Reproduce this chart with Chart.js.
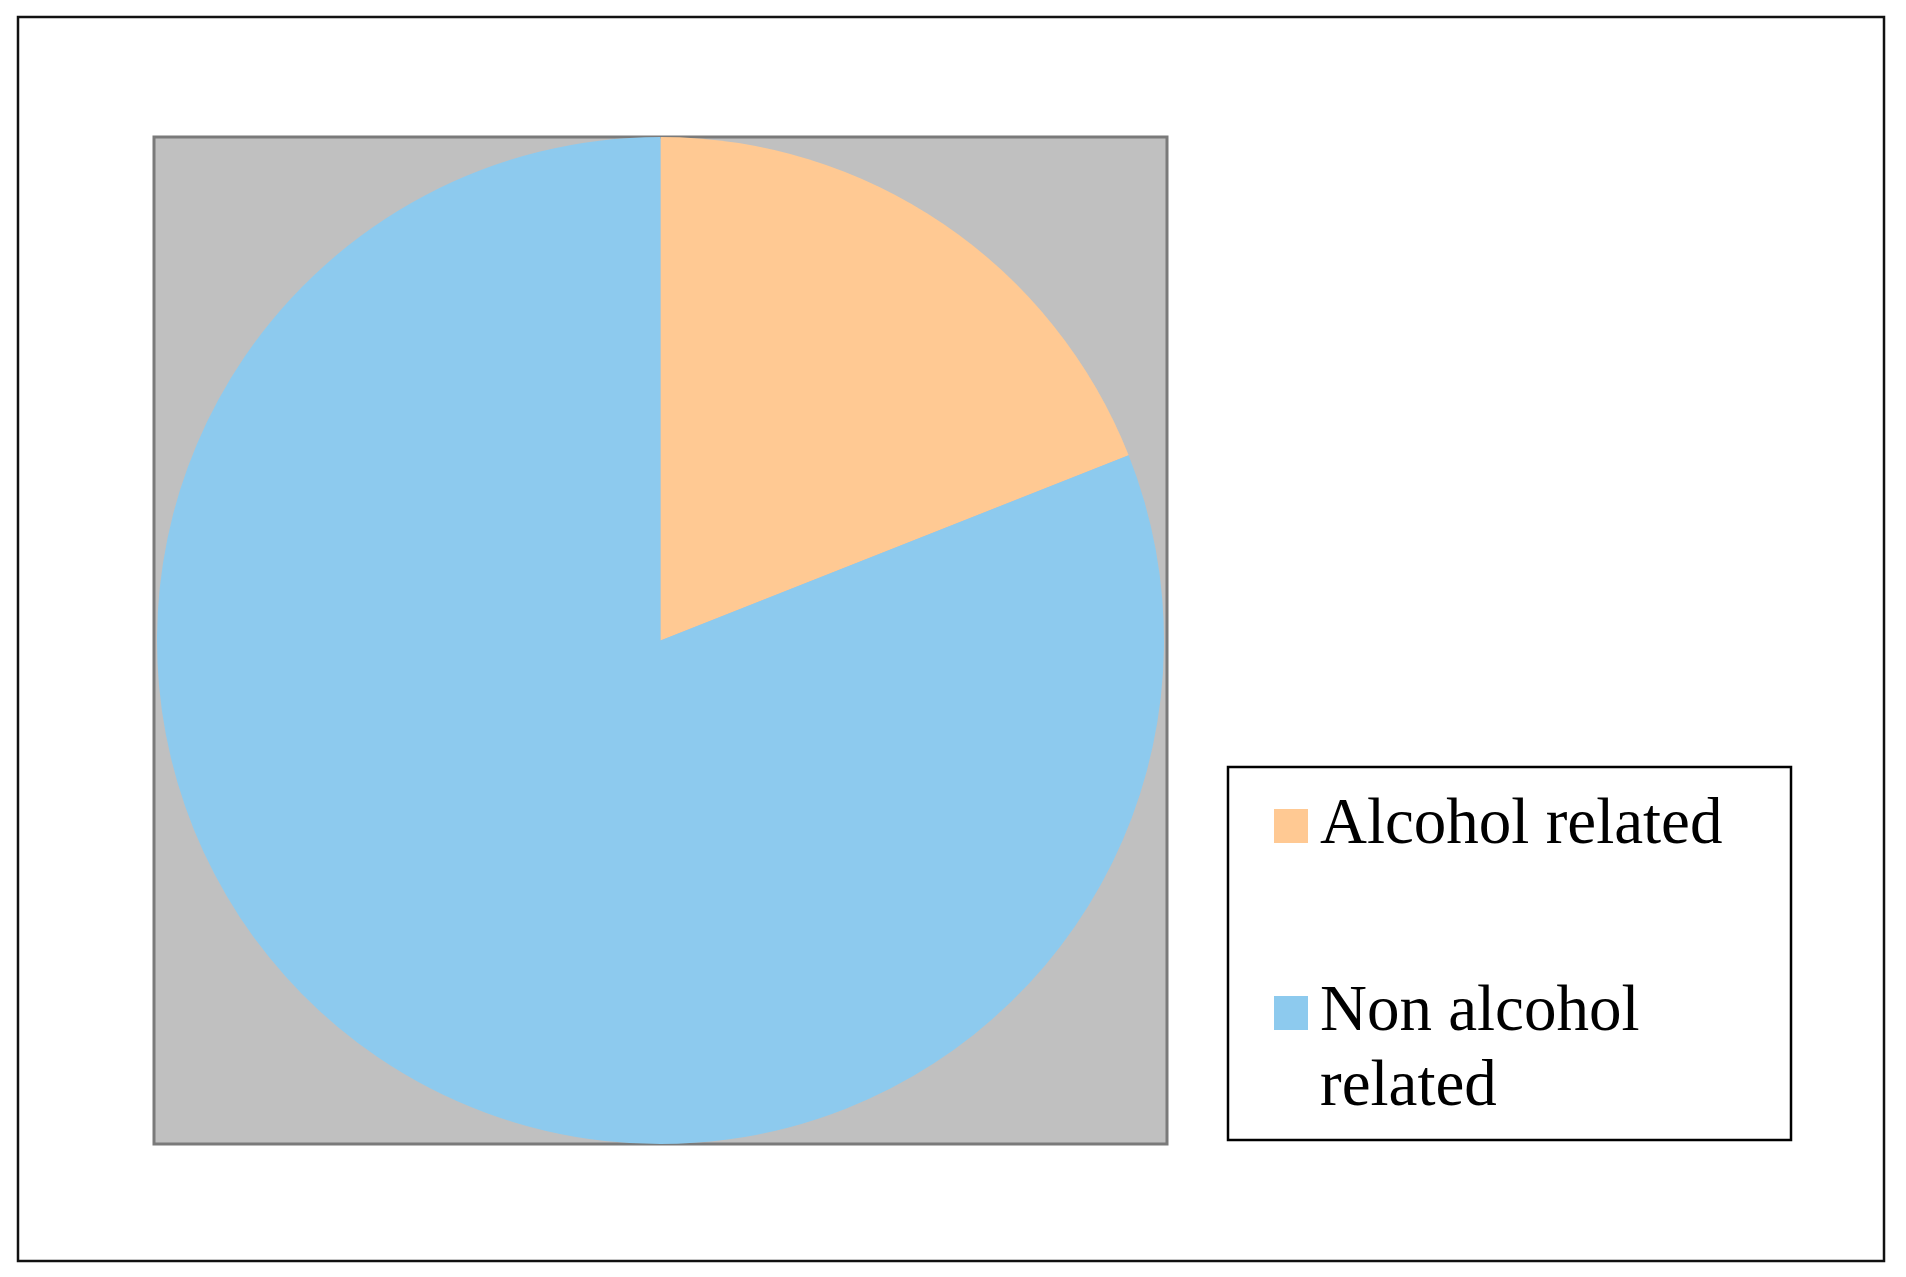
<!DOCTYPE html>
<html>
<head>
<meta charset="utf-8">
<script src="https://cdn.jsdelivr.net/npm/chart.js@4.4.1/dist/chart.umd.min.js"></script>
<style>
    html, body { margin: 0; padding: 0; background: #ffffff; }
    #wrap { width: 1906px; height: 1277px; }
</style>
</head>
<body>
<div id="wrap"><canvas id="pieChart" width="1906" height="1277"></canvas></div>
<script>
// Chart data
const categories = ['Alcohol related', 'Non alcohol related'];
const shares = [19, 81];

const ORANGE = '#FFC993';
const BLUE = '#8DCAEE';

// Frame around the whole figure and the grey plot area behind the pie
const framePlugin = {
    id: 'frame',
    beforeDraw(chart) {
        const ctx = chart.ctx;
        const area = chart.chartArea;
        ctx.save();
        ctx.fillStyle = '#ffffff';
        ctx.fillRect(0, 0, chart.width, chart.height);

        // outer border
        ctx.strokeStyle = '#111111';
        ctx.lineWidth = 2.5;
        ctx.strokeRect(18, 17, 1866, 1244);

        // plot area
        ctx.fillStyle = '#C0C0C0';
        ctx.fillRect(area.left, area.top, area.right - area.left, area.bottom - area.top);
        ctx.strokeStyle = '#7a7a7a';
        ctx.lineWidth = 3;
        ctx.strokeRect(area.left, area.top, area.right - area.left, area.bottom - area.top);
        ctx.restore();
    }
};

// Boxed legend on the right, long labels wrap onto a second line
const boxLegendPlugin = {
    id: 'boxLegend',
    afterDraw(chart) {
        const ctx = chart.ctx;
        const colors = chart.data.datasets[0].backgroundColor;
        const box = { x: 1228, y: 767, w: 563, h: 373 };
        const maxText = 440;
        const lineGap = 75;
        const itemTops = [843, 1030];

        ctx.save();
        ctx.strokeStyle = '#000000';
        ctx.lineWidth = 2.5;
        ctx.strokeRect(box.x, box.y, box.w, box.h);

        ctx.font = '65px "Liberation Serif", "Times New Roman", serif';
        ctx.textBaseline = 'alphabetic';
        ctx.fillStyle = '#000000';

        chart.data.labels.forEach((label, i) => {
            // wrap words to the available width
            const lines = [];
            let current = '';
            label.split(' ').forEach(word => {
                const test = current ? current + ' ' + word : word;
                if (ctx.measureText(test).width > maxText && current) {
                    lines.push(current);
                    current = word;
                } else {
                    current = test;
                }
            });
            lines.push(current);

            const baseline = itemTops[i];
            ctx.fillStyle = colors[i];
            ctx.fillRect(1274, baseline - 34, 34, 34);

            ctx.fillStyle = '#000000';
            lines.forEach((line, j) => {
                ctx.fillText(line, 1320, baseline + j * lineGap);
            });
        });
        ctx.restore();
    }
};

document.addEventListener('DOMContentLoaded', () => {
    const ctx = document.getElementById('pieChart').getContext('2d');
    new Chart(ctx, {
        type: 'pie',
        data: {
            labels: categories,
            datasets: [{
                data: shares,
                backgroundColor: [ORANGE, BLUE],
                borderWidth: 0
            }]
        },
        options: {
            responsive: false,
            animation: false,
            layout: {
                padding: { left: 154, top: 137, right: 739, bottom: 133 }
            },
            plugins: {
                legend: { display: false },
                tooltip: { enabled: false }
            }
        },
        plugins: [framePlugin, boxLegendPlugin]
    });
});
</script>
</body>
</html>
